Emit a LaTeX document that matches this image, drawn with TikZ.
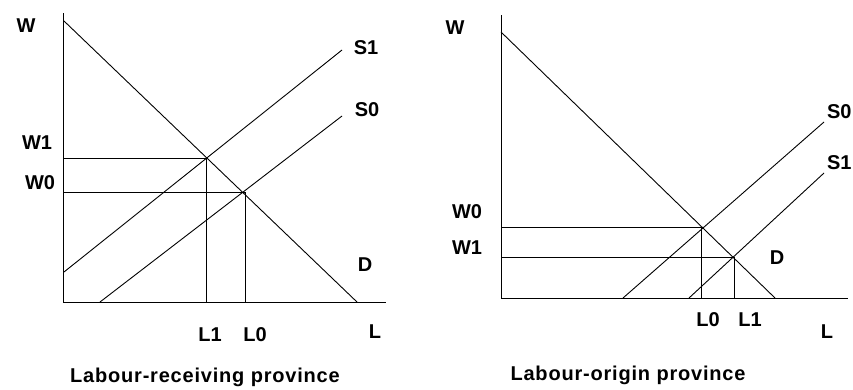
\documentclass[tikz,border=0pt]{standalone}
\usepackage{fontspec}
\setmainfont{Liberation Sans}
\usetikzlibrary{positioning}

\begin{document}
\begin{tikzpicture}[x=1pt, y=-1pt, line width=0.9pt,
    lbl/.style={font=\bfseries\fontsize{20}{20}\selectfont, inner sep=0pt},
    ttl/.style={font=\bfseries\fontsize{20}{20}\selectfont\addfontfeature{LetterSpace=4}, inner sep=0pt}]
  \useasboundingbox (0,0) rectangle (853,389);

  % left panel: labour-receiving province
  \coordinate (ya) at (63,13);
  \coordinate (o) at (63,302);
  \coordinate (xa) at (386,302);
  \coordinate (dtop) at (64,21);
  \coordinate (dbot) at (357,302);
  \coordinate (s1lo) at (64,272);
  \coordinate (s1hi) at (342,50);
  \coordinate (s0lo) at (100,302);
  \coordinate (s0hi) at (342,116);
  \coordinate (e1) at (206,158);
  \coordinate (e0) at (245,192);
  \coordinate (w1) at (63,158);
  \coordinate (w0) at (63,192);
  \coordinate (l1) at (206,302);
  \coordinate (l0) at (245,302);

  \draw (ya) -- (o) -- (xa);
  \draw (dtop) -- (dbot);
  \draw (s1lo) -- (s1hi);
  \draw (s0lo) -- (s0hi);
  \draw (w1) -- (e1) -- (l1);
  \draw (w0) -- (e0) -- (l0);

  \node[lbl] (lw) at (26,26) {W};
  \node[lbl] (ls1) at (366,48) {S1};
  \node[lbl] (ls0) at (367,110) {S0};
  \node[lbl] (lw1) at (37,143) {W1};
  \node[lbl] (lw0) at (40,183) {W0};
  \node[lbl] (ld) at (365,265) {D};
  \node[lbl] (ll1) at (210,335) {L1};
  \node[lbl] (ll0) at (255,335) {L0};
  \node[lbl] (ll) at (375,332) {L};
  \node[ttl] (t1) at (205,377) {Labour-receiving province};

  % right panel: labour-origin province
  \coordinate (yb) at (501,15);
  \coordinate (ob) at (501,298);
  \coordinate (xb) at (848,298);
  \coordinate (dtopb) at (501,32);
  \coordinate (dbotb) at (775,298);
  \coordinate (s0lob) at (623,298);
  \coordinate (s0hib) at (824,122);
  \coordinate (s1lob) at (689,298);
  \coordinate (s1hib) at (824,173);
  \coordinate (e0b) at (701,227);
  \coordinate (e1b) at (734,257);
  \coordinate (w0b) at (501,227);
  \coordinate (w1b) at (501,257);
  \coordinate (l0b) at (701,298);
  \coordinate (l1b) at (734,298);

  \draw (yb) -- (ob) -- (xb);
  \draw (dtopb) -- (dbotb);
  \draw (s0lob) -- (s0hib);
  \draw (s1lob) -- (s1hib);
  \draw (w0b) -- (e0b) -- (l0b);
  \draw (w1b) -- (e1b) -- (l1b);

  \node[lbl] (rw) at (455,28) {W};
  \node[lbl, anchor=east] (rs0) at (852,112) {S0};
  \node[lbl, anchor=east] (rs1) at (852,163) {S1};
  \node[lbl] (rw0) at (467,212) {W0};
  \node[lbl] (rw1) at (467,248) {W1};
  \node[lbl] (rd) at (777,258) {D};
  \node[lbl] (rl0) at (708,320) {L0};
  \node[lbl] (rl1) at (750,320) {L1};
  \node[lbl] (rl) at (827,332) {L};
  \node[ttl] (t2) at (628,375) {Labour-origin province};
\end{tikzpicture}
\end{document}
